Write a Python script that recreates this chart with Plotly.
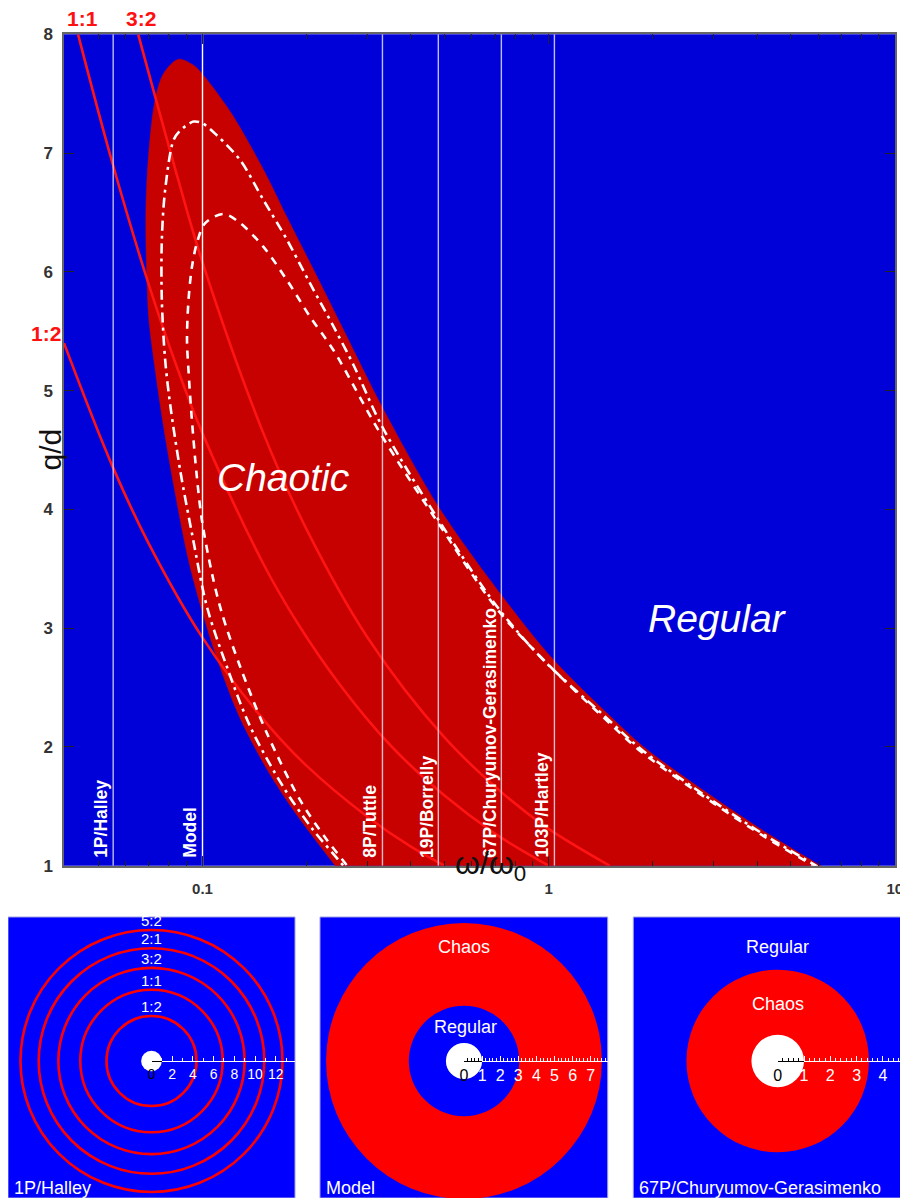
import numpy as np
import plotly.graph_objects as go

# ---------------- data ----------------
comet_names = ["1P/Halley", "Model", "8P/Tuttle", "19P/Borrelly",
               "67P/Churyumov-Gerasimenko", "103P/Hartley"]
comet_omega = [0.0552, 0.100, 0.331, 0.480, 0.730, 1.039]

# boundary of the chaotic region (omega/omega0, q/d), closed outline
chaos_omega = [1.5, 0.31, 0.2419, 0.186, 0.156, 0.1278, 0.1088, 0.0996, 0.0911, 0.0834,
               0.0772, 0.0728, 0.0700, 0.0690, 0.0686, 0.0698, 0.0730, 0.0772, 0.0852,
               0.0942, 0.0996, 0.1202, 0.150, 0.1754, 0.2095, 0.2556, 0.330, 0.481,
               0.725, 1.023, 1.475, 1.88, 3.07, 4.28, 6.1, 10.4, 1.5]
chaos_q = [0.6, 0.6, 1.0, 1.44, 1.778, 2.255, 2.79, 3.15, 3.574, 4.135,
           4.696, 5.2, 5.6, 6.0, 6.49, 6.97, 7.45, 7.67, 7.79,
           7.74, 7.67, 7.35, 6.86, 6.46, 6.015, 5.51, 4.865, 4.02,
           3.29, 2.746, 2.283, 2.0, 1.553, 1.273, 1.0, 0.6, 0.6]

# white dash-dot contour
dashdot_omega = [0.27, 0.255, 0.207, 0.171, 0.1374, 0.1176, 0.103, 0.0932, 0.0862, 0.0806,
                 0.078, 0.0763, 0.0763, 0.078, 0.0825, 0.0862, 0.0942, 0.100, 0.110, 0.1285,
                 0.150, 0.1754, 0.2047, 0.239, 0.273, 0.330, 0.481, 0.710, 0.967, 1.45, 1.85,
                 3.0, 4.2, 6.0, 6.8]
dashdot_q = [0.9, 1.0, 1.315, 1.665, 2.17, 2.675, 3.18, 3.80, 4.33, 4.89,
             5.26, 5.76, 6.27, 6.69, 7.11, 7.19, 7.265, 7.25, 7.15, 6.94,
             6.605, 6.27, 5.90, 5.54, 5.216, 4.70, 3.91, 3.18, 2.73, 2.26, 1.98,
             1.54, 1.26, 0.99, 0.9]

# white dashed contour
dashed_omega = [0.275, 0.2615, 0.2288, 0.1916, 0.1535, 0.1285, 0.1138, 0.1065, 0.0996, 0.0963,
                0.0932, 0.0911, 0.0902, 0.0911, 0.0932, 0.0963, 0.1018, 0.115, 0.1285, 0.150,
                0.1754, 0.2047, 0.239, 0.3263, 0.476, 0.710, 1.0, 1.45, 1.85, 3.0, 4.2, 6.0, 6.8]
dashed_q = [0.9, 1.0, 1.217, 1.55, 2.115, 2.675, 3.125, 3.46, 3.91, 4.275,
            4.75, 5.17, 5.43, 5.76, 6.04, 6.24, 6.41, 6.487, 6.41, 6.21,
            5.93, 5.62, 5.34, 4.64, 3.90, 3.16, 2.69, 2.24, 1.96, 1.525, 1.245, 0.98, 0.9]

# resonance curves
res_labels = ["1:1", "3:2", "1:2"]
res11_omega = [0.0437, 0.055, 0.070, 0.085, 0.100, 0.150, 0.1875, 0.250, 0.350, 0.500, 0.700, 1.000]
res11_q = [8.0, 6.91, 5.89, 5.17, 4.64, 3.54, 3.05, 2.52, 2.01, 1.59, 1.27, 1.0]
res32_omega = [0.0652, 0.085, 0.100, 0.150, 0.200, 0.300, 0.500, 0.750, 1.000, 1.500]
res32_q = [8.0, 6.78, 6.08, 4.64, 3.83, 2.92, 2.08, 1.59, 1.31, 1.0]
res12_omega = [0.0398, 0.055, 0.070, 0.100, 0.150, 0.200, 0.300, 0.400, 0.500]
res12_q = [5.40, 4.36, 3.71, 2.92, 2.23, 1.84, 1.41, 1.16, 1.0]

# bottom panels (radii in q/d)
halley_ring_labels = ["1:2", "1:1", "3:2", "2:1", "5:2"]
halley_ring_radius = [4.35, 6.88, 9.0, 10.9, 12.66]
nucleus_radius = 1.0
model_chaos_outer = 7.62
model_regular_inner = 3.05
p67_chaos_outer = 3.47
halley_ticks = [2, 4, 6, 8, 10, 12]
model_ticks = [1, 2, 3, 4, 5, 6, 7]
p67_ticks = [1, 2, 3, 4, 5]

# ---------------- styling / layout helpers ----------------
# the page body adds an 8 px margin, so the figure is 8 px smaller and all
# target pixel positions (measured in the 908x1198 window) are shifted by 8 px
OFF = 8
W, H = 908 - OFF, 1198 - OFF
FONT = "Liberation Sans, Arial, sans-serif"
BLUE_MAIN = "#0000d8"
RED_MAIN = "#c70000"
BLUE_P = "#0000ff"
RED_P = "#ff0000"


def fx(px):
    return min(1.0, max(0.0, (px - OFF) / W))


def fy(py):
    return min(1.0, max(0.0, 1 - (py - OFF) / H))


fig = go.Figure()
shapes = []
annotations = []

# ---------- main chart ----------
shapes.append(dict(type="rect", xref="x domain", yref="y domain", x0=0, x1=1, y0=0, y1=1,
                   fillcolor=BLUE_MAIN, line=dict(width=0), layer="below"))

fig.add_trace(go.Scatter(x=chaos_omega, y=chaos_q, mode="lines", fill="toself",
                         fillcolor=RED_MAIN,
                         line=dict(color=RED_MAIN, width=0.5, shape="spline", smoothing=0.9),
                         hoverinfo="skip"))

for om, qq in [(res11_omega, res11_q), (res32_omega, res32_q), (res12_omega, res12_q)]:
    fig.add_trace(go.Scatter(x=om, y=qq, mode="lines",
                             line=dict(color="#ff1414", width=2.6, shape="spline"),
                             hoverinfo="skip"))

for name, om in zip(comet_names, comet_omega):
    col = "white" if name == "Model" else "rgba(235,235,255,0.8)"
    fig.add_trace(go.Scatter(x=[om, om], y=[1, 8], mode="lines",
                             line=dict(color=col, width=1.4), hoverinfo="skip"))
    annotations.append(dict(x=np.log10(om), y=1, xref="x", yref="y", text=name,
                            textangle=-90, xanchor="right", yanchor="bottom",
                            xshift=0, yshift=6, showarrow=False,
                            font=dict(family=FONT, size=17.5, color="white", weight="bold")))

fig.add_trace(go.Scatter(x=dashdot_omega, y=dashdot_q, mode="lines",
                         line=dict(color="white", width=2.6, shape="spline", smoothing=0.9,
                                   dash="10px,5px,3px,5px"), hoverinfo="skip"))
fig.add_trace(go.Scatter(x=dashed_omega, y=dashed_q, mode="lines",
                         line=dict(color="white", width=2.6, shape="spline", smoothing=0.9,
                                   dash="8px,7px"),
                         hoverinfo="skip"))

# resonance labels
red_font = dict(family=FONT, size=21, color="#ff1010", weight="bold")
annotations.append(dict(x=np.log10(res11_omega[0]), y=8, xref="x", yref="y", text=res_labels[0],
                        xanchor="center", yanchor="bottom", xshift=4, yshift=2,
                        showarrow=False, font=red_font))
annotations.append(dict(x=np.log10(res32_omega[0]), y=8, xref="x", yref="y", text=res_labels[1],
                        xanchor="center", yanchor="bottom", xshift=3, yshift=2,
                        showarrow=False, font=red_font))
annotations.append(dict(x=np.log10(res12_omega[0]), y=res12_q[0], xref="x", yref="y",
                        text=res_labels[2], xanchor="right", yanchor="middle", xshift=-1,
                        yshift=10, showarrow=False, font=red_font))

# region labels
annotations.append(dict(x=np.log10(0.171), y=4.27, xref="x", yref="y", text="<i>Chaotic</i>",
                        showarrow=False, font=dict(family=FONT, size=39, color="white")))
annotations.append(dict(x=np.log10(3.07), y=3.08, xref="x", yref="y", text="<i>Regular</i>",
                        showarrow=False, font=dict(family=FONT, size=39, color="white")))

# axis titles
annotations.append(dict(x=fx(490), y=fy(888), xref="paper", yref="paper",
                        text="ω/ω<sub>0</sub>", showarrow=False,
                        font=dict(family=FONT, size=32, color="#111")))
annotations.append(dict(x=fx(31), y=fy(450), xref="paper", yref="paper", text="q/d",
                        textangle=-90, showarrow=False,
                        font=dict(family=FONT, size=30, color="#111")))

minor_x = [m * 10.0 ** e for e in (-2, -1, 0) for m in range(2, 10) if 0.04 <= m * 10.0 ** e <= 10]
tickfont = dict(family=FONT, size=17, color="#333", weight="bold")

layout_axes = dict(
    xaxis=dict(type="log", range=[np.log10(0.0398), 1.0005], domain=[fx(64), fx(895)],
               anchor="y", tickvals=[0.1, 1, 10], ticktext=["0.1", "1", "10"],
               ticks="inside", ticklen=10, tickcolor="#222", mirror="allticks",
               showline=True, linecolor="#666", linewidth=1.5, showgrid=False,
               zeroline=False, automargin=False,
               tickfont=dict(family=FONT, size=15, color="#333", weight="bold"),
               ticklabelstandoff=9,
               minor=dict(tickvals=minor_x, ticks="inside", ticklen=5, tickcolor="#222")),
    yaxis=dict(range=[1, 8], domain=[fy(865.7), fy(34.3)], anchor="x",
               tickvals=list(range(1, 9)), ticks="inside", ticklen=10, tickcolor="#222",
               mirror="allticks", showline=True, linecolor="#666", linewidth=1.5,
               showgrid=False, zeroline=False, automargin=False, tickfont=tickfont,
               ticklabelstandoff=6),
)

# ---------- bottom panels ----------
PANEL_TOP = 917
CY = 1061
panels = [
    dict(name="1P/Halley", x0=OFF, x1=295, cx=151.5, s=10.35, ticks=halley_ticks,
         minor=1.0, fsize=14),
    dict(name="Model", x0=320, x1=607.7, cx=464, s=18.1, ticks=model_ticks,
         minor=0.2, fsize=16),
    dict(name="67P/Churyumov-Gerasimenko", x0=633.3, x1=908, cx=777.7, s=26.3,
         ticks=p67_ticks, minor=0.2, fsize=16),
]

for i, p in enumerate(panels):
    n = i + 2
    xa, ya = f"x{n}", f"y{n}"
    s = p["s"]
    layout_axes[f"xaxis{n}"] = dict(domain=[fx(p["x0"]), fx(p["x1"])],
                                    range=[-(p["cx"] - p["x0"]) / s, (p["x1"] - p["cx"]) / s],
                                    visible=False, anchor=ya, fixedrange=True, automargin=False)
    layout_axes[f"yaxis{n}"] = dict(domain=[0, fy(PANEL_TOP)],
                                    range=[-(1198 - CY) / s, (CY - PANEL_TOP) / s],
                                    visible=False, anchor=xa, fixedrange=True, automargin=False)
    shapes.append(dict(type="rect", xref=f"{xa} domain", yref=f"{ya} domain", x0=0, x1=1,
                       y0=0, y1=1, fillcolor=BLUE_P,
                       line=dict(color="rgba(160,160,230,1)", width=1), layer="below"))

    def disk(r, color):
        shapes.append(dict(type="circle", xref=xa, yref=ya, x0=-r, x1=r, y0=-r, y1=r,
                           fillcolor=color, line=dict(width=0), layer="below"))

    if i == 0:
        for lab, r in zip(halley_ring_labels, halley_ring_radius):
            shapes.append(dict(type="circle", xref=xa, yref=ya, x0=-r, x1=r, y0=-r, y1=r,
                               line=dict(color=RED_P, width=2.6), layer="below"))
            annotations.append(dict(x=0, y=r, xref=xa, yref=ya, text=lab, showarrow=False,
                                    yanchor="bottom", yshift=-1,
                                    font=dict(family=FONT, size=15, color="white")))
        disk(nucleus_radius, "white")
    elif i == 1:
        disk(model_chaos_outer, RED_P)
        disk(model_regular_inner, BLUE_P)
        disk(nucleus_radius, "white")
        annotations.append(dict(x=0, y=6.3, xref=xa, yref=ya, text="Chaos", showarrow=False,
                                font=dict(family=FONT, size=18, color="white")))
        annotations.append(dict(x=0.1, y=1.88, xref=xa, yref=ya, text="Regular",
                                showarrow=False, font=dict(family=FONT, size=18, color="white")))
    else:
        disk(p67_chaos_outer, RED_P)
        disk(nucleus_radius, "white")
        annotations.append(dict(x=0, y=4.33, xref=xa, yref=ya, text="Regular", showarrow=False,
                                font=dict(family=FONT, size=18, color="white")))
        annotations.append(dict(x=0, y=2.17, xref=xa, yref=ya, text="Chaos", showarrow=False,
                                font=dict(family=FONT, size=18, color="white")))

    annotations.append(dict(x=fx(p["x0"] + 4), y=fy(1188), xref="paper", yref="paper",
                            text=p["name"], xanchor="left", yanchor="middle", showarrow=False,
                            font=dict(family=FONT, size=18, color="white")))

    # radial scale (white, outside the nucleus)
    rw = f"x{n + 3}"
    layout_axes[f"xaxis{n + 3}"] = dict(
        domain=[fx(p["cx"]), fx(p["x1"])], range=[0, (p["x1"] - p["cx"]) / s],
        anchor="free", position=fy(CY), side="bottom", showline=True, linecolor="white",
        linewidth=1.2, tickvals=p["ticks"], ticks="inside", ticklen=5, tickcolor="white",
        tickfont=dict(family=FONT, size=p["fsize"], color="white"), showgrid=False,
        zeroline=False, fixedrange=True, ticklabelstandoff=0, automargin=False,
        minor=dict(dtick=p["minor"], tick0=0, ticks="inside", ticklen=3, tickcolor="white"))
    fig.add_trace(go.Scatter(x=[0.5], y=[0], xaxis=rw, yaxis=ya, mode="markers",
                             marker=dict(opacity=0), hoverinfo="skip"))
    # radial scale inside the nucleus (black)
    rb = f"x{n + 6}"
    layout_axes[f"xaxis{n + 6}"] = dict(
        domain=[fx(p["cx"]), fx(p["cx"] + s * nucleus_radius)], range=[0, nucleus_radius],
        anchor="free", position=fy(CY), side="bottom", showline=True, linecolor="black",
        linewidth=1.2, tickvals=[0], ticktext=["0"], ticks="inside", ticklen=5,
        tickcolor="black", tickfont=dict(family=FONT, size=p["fsize"], color="black"),
        showgrid=False, zeroline=False, fixedrange=True, ticklabelstandoff=0, automargin=False,
        minor=dict(dtick=0.2, tick0=0, ticks="inside", ticklen=3, tickcolor="black")
        if p["minor"] < 1 else dict(ticks=""))
    fig.add_trace(go.Scatter(x=[0.5], y=[0], xaxis=rb, yaxis=ya, mode="markers",
                             marker=dict(opacity=0), hoverinfo="skip"))

fig.update_layout(template="none", width=W, height=H, margin=dict(l=0, r=0, t=0, b=0),
                  paper_bgcolor="white", plot_bgcolor="rgba(0,0,0,0)", showlegend=False,
                  shapes=shapes, annotations=annotations, **layout_axes)

fig.write_html("out.html")
